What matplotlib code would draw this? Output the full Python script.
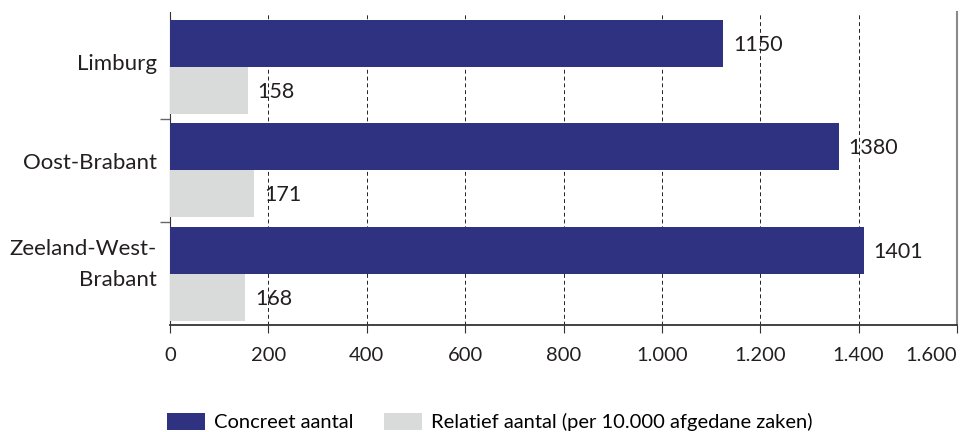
import matplotlib.pyplot as plt
import numpy as np

plt.rcParams['font.family'] = ['Lato', 'DejaVu Sans']

regios = ['Limburg', 'Oost-Brabant', 'Zeeland-West-\nBrabant']
concreet = [1125, 1360, 1410]
relatief = [158, 171, 153]
concreet_labels = ['1150', '1380', '1401']
relatief_labels = ['158', '171', '168']
xticks = [0, 200, 400, 600, 800, 1000, 1200, 1400, 1600]
xtick_names = ['0', '200', '400', '600', '800', '1.000', '1.200', '1.400', '1.600']

blauw = '#2f3181'
grijs = '#d9dada'
tekst = '#231f20'

fig = plt.figure(figsize=(9.6, 4.32), dpi=100)
ax = fig.add_axes([170 / 960, 1 - 325 / 432, 787 / 960, 313 / 432])

y = np.arange(len(regios))
h = 0.455
b1 = ax.barh(y - h / 2, concreet, height=h, color=blauw, label='Concreet aantal', zorder=3)
b2 = ax.barh(y + h / 2, relatief, height=h, color=grijs,
             label='Relatief aantal (per 10.000 afgedane zaken)', zorder=3)

# waardelabels naast de balken
for bars, labels in ((b1, concreet_labels), (b2, relatief_labels)):
    for rect, txt in zip(bars, labels):
        ax.annotate(txt, (rect.get_width(), rect.get_y() + rect.get_height() / 2),
                    xytext=(7, -1), textcoords='offset points',
                    va='center', ha='left', fontsize=15.5, color=tekst, zorder=4)

ax.set_xlim(0, 1600)
ax.set_ylim(2 + h + 0.04, -h - 0.078)

ax.set_xticks(xticks)
ax.set_xticklabels(xtick_names, fontsize=14.5, color=tekst)
ax.get_xticklabels()[-1].set_horizontalalignment('right')

# regionamen als tekst, iets boven het midden van de groep zoals in het origineel
ax.set_yticks(y)
ax.set_yticklabels([])
for yi, reg, up in zip(y, regios, [2.5, 5.5, 7.0]):
    ax.annotate(reg, (0, yi), xycoords=('axes fraction', 'data'),
                xytext=(-9.5, up), textcoords='offset points',
                ha='right', va='center', fontsize=16, color=tekst, linespacing=1.7)
ax.set_yticks([0.5, 1.5], minor=True)
ax.tick_params(axis='y', which='major', length=0)
ax.tick_params(axis='y', which='minor', length=7.5, color='#666666', width=1)
ax.tick_params(axis='x', length=6, color='#333333', width=0.8, pad=10)

ax.grid(axis='x', color='#222222', linestyle=(0, (4, 3)), linewidth=0.7, zorder=1)

ax.spines['top'].set_visible(False)
ax.spines['right'].set_color('#8a8a8a')
ax.spines['right'].set_linewidth(1.5)
ax.spines['left'].set_color('#333333')
ax.spines['bottom'].set_color('#333333')
ax.spines['bottom'].set_linewidth(1.3)

fig.legend(handles=[b1, b2], loc='center left', bbox_to_anchor=(167 / 960, 1 - 422 / 432),
           ncol=2, frameon=False, fontsize=14.5, handlelength=1.9, handleheight=0.9,
           handletextpad=0.45, columnspacing=1.5, borderpad=0, borderaxespad=0)

fig.savefig('out.png', dpi=100)
